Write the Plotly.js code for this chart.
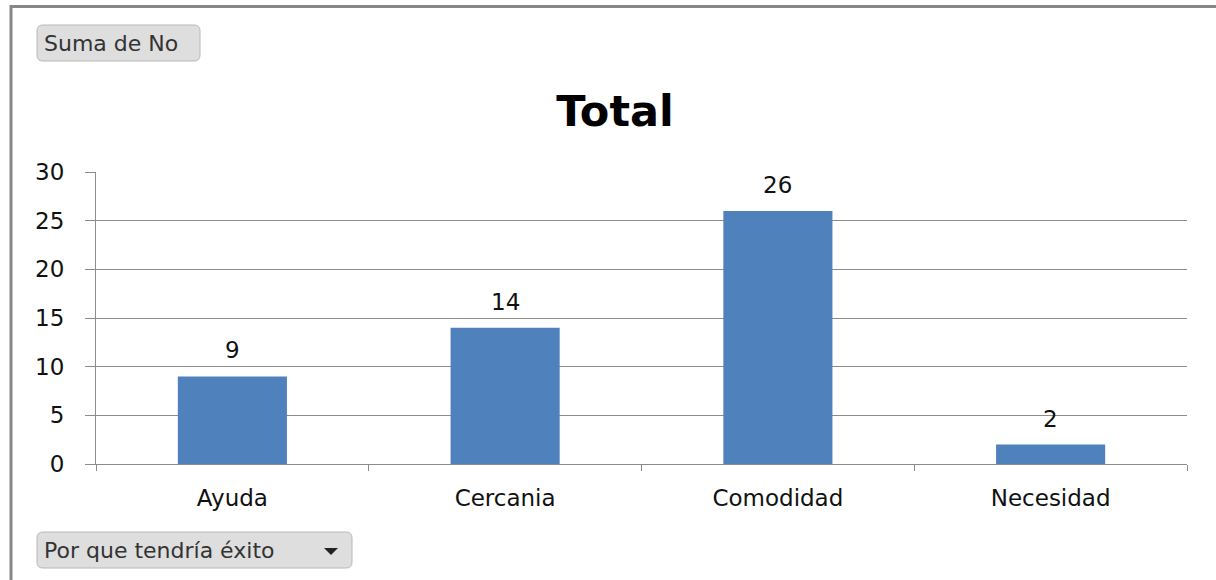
<!DOCTYPE html>
<html>
<head>
<meta charset="utf-8">
<script src="https://cdn.plot.ly/plotly-3.0.1.min.js"></script>
<style>
html,body{margin:0;padding:0;background:#fff;}
#chart{width:1216px;height:580px;}
</style>
</head>
<body>
<div id="chart"></div>
<script>
var categories = ["Ayuda", "Cercania", "Comodidad", "Necesidad"];
var values = [9, 14, 26, 2];
var yTicks = [0, 5, 10, 15, 20, 25, 30];
var titleText = "Total";
var valueButtonText = "Suma de No";
var fieldButtonText = "Por que tendría éxito";

var W = 1216, H = 580;
var M = {l: 96, r: 29, t: 172, b: 116};
var PW = W - M.l - M.r, PH = H - M.t - M.b;
function px(x){ return (x - M.l) / PW; }
function py(y){ return (H - M.b - y) / PH; }

function roundRect(x0, y0, x1, y1, r){
  var X0 = px(x0), X1 = px(x1), Y0 = py(y0), Y1 = py(y1);
  var rx = r / PW, ry = r / PH;
  return "M" + (X0 + rx) + "," + Y0 +
    " L" + (X1 - rx) + "," + Y0 +
    " Q" + X1 + "," + Y0 + " " + X1 + "," + (Y0 - ry) +
    " L" + X1 + "," + (Y1 + ry) +
    " Q" + X1 + "," + Y1 + " " + (X1 - rx) + "," + Y1 +
    " L" + (X0 + rx) + "," + Y1 +
    " Q" + X0 + "," + Y1 + " " + X0 + "," + (Y1 + ry) +
    " L" + X0 + "," + (Y0 - ry) +
    " Q" + X0 + "," + Y0 + " " + (X0 + rx) + "," + Y0 + " Z";
}

var font = "DejaVu Sans, Verdana, sans-serif";
var gridColor = "#8c8c8c";
var textColor = "#111111";

var trace = {
  type: "bar",
  x: categories,
  y: values,
  marker: {color: "#4F81BD", line: {width: 0}},
  hoverinfo: "x+y"
};

var annotations = categories.map(function(c, i){
  return {
    x: c, y: values[i], xref: "x", yref: "y",
    text: String(values[i]),
    showarrow: false, yanchor: "bottom", yshift: 11,
    font: {family: font, size: 23, color: textColor}
  };
});

annotations.push({
  xref: "paper", yref: "paper", x: px(42), y: py(43.5),
  xanchor: "left", yanchor: "middle", showarrow: false,
  text: valueButtonText,
  font: {family: font, size: 22, color: "#333333"}
});
annotations.push({
  xref: "paper", yref: "paper", x: px(42), y: py(550),
  xanchor: "left", yanchor: "middle", showarrow: false,
  text: fieldButtonText,
  font: {family: font, size: 22, color: "#333333"}
});

var shapes = [
  {type: "line", xref: "paper", yref: "paper", x0: px(11), x1: px(1216), y0: py(6.5), y1: py(6.5), line: {color: "#878787", width: 3}},
  {type: "line", xref: "paper", yref: "paper", x0: px(11), x1: px(11), y0: py(5), y1: py(580), line: {color: "#878787", width: 3}},
  {type: "path", xref: "paper", yref: "paper", path: roundRect(37, 25, 200, 61, 6), fillcolor: "#dedede", line: {color: "#b8b8b8", width: 1}},
  {type: "path", xref: "paper", yref: "paper", path: roundRect(37, 532, 352, 568, 6), fillcolor: "#dedede", line: {color: "#b8b8b8", width: 1}},
  {type: "path", xref: "paper", yref: "paper",
   path: "M" + px(324) + "," + py(548) + " L" + px(338) + "," + py(548) + " L" + px(331) + "," + py(555) + " Z",
   fillcolor: "#222222", line: {width: 0}}
];

var layout = {
  width: W, height: H,
  margin: M,
  paper_bgcolor: "#ffffff",
  plot_bgcolor: "#ffffff",
  showlegend: false,
  bargap: 0.6,
  title: {
    text: "<b>" + titleText + "</b>",
    font: {family: font, size: 43, color: "#000000"},
    x: 615 / W, xref: "container", xanchor: "center",
    y: 1 - 111 / H, yref: "container", yanchor: "middle"
  },
  xaxis: {
    type: "category",
    tickson: "boundaries",
    ticks: "outside", ticklen: 6, tickcolor: gridColor, tickwidth: 1,
    showline: true, linecolor: gridColor, linewidth: 1,
    showgrid: false,
    tickfont: {family: font, size: 23, color: textColor},
    ticklabelstandoff: 13,
    fixedrange: true
  },
  yaxis: {
    range: [0, 30],
    tickvals: yTicks,
    ticktext: yTicks.map(String),
    ticks: "outside", ticklen: 10, tickcolor: gridColor, tickwidth: 1,
    showline: true, linecolor: gridColor, linewidth: 1,
    showgrid: true, gridcolor: gridColor, gridwidth: 1,
    zeroline: false,
    tickfont: {family: font, size: 23, color: textColor},
    ticklabelstandoff: 16,
    fixedrange: true
  },
  annotations: annotations,
  shapes: shapes
};

Plotly.newPlot("chart", [trace], layout, {displayModeBar: false, staticPlot: true});
</script>
</body>
</html>
